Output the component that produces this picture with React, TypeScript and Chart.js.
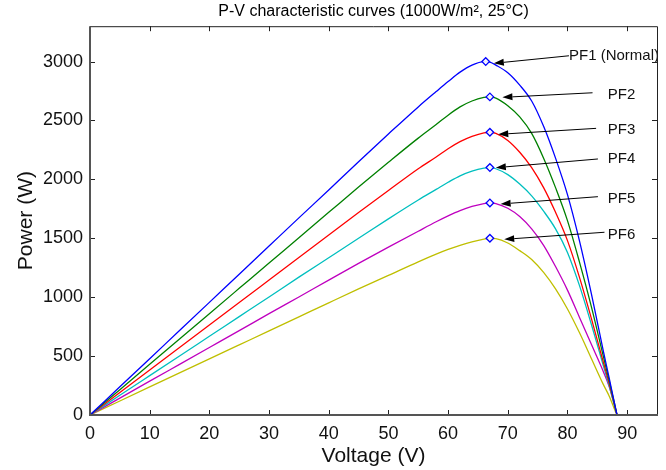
import React, { useEffect, useRef } from "react";
import { Chart, registerables } from "chart.js";

Chart.register(...registerables);

const FONT = "'Liberation Sans', Arial, Helvetica, sans-serif";

const voltage = [0, 5, 10, 15, 20, 25, 30, 35, 40, 45, 50, 55, 58, 60, 62, 64, 66, 67, 68, 70, 72, 74, 76, 78, 80, 82, 84, 86, 87, 88, 88.3];

const pf1 = [0, 239, 478, 717, 956, 1195, 1434, 1673, 1910, 2150, 2385, 2615, 2745, 2830, 2910, 2970, 3000, 2995, 2970, 2905, 2800, 2665, 2450, 2180, 1870, 1480, 1030, 545, 310, 70, 0];
const pf2 = [0, 215, 430, 645, 860, 1075, 1290, 1505, 1720, 1935, 2145, 2350, 2465, 2545, 2615, 2665, 2695, 2700, 2690, 2625, 2530, 2390, 2180, 1930, 1650, 1300, 920, 500, 290, 70, 0];
const pf3 = [0, 191, 382, 573, 764, 955, 1146, 1337, 1528, 1718, 1905, 2090, 2190, 2260, 2320, 2365, 2395, 2400, 2390, 2330, 2230, 2100, 1930, 1720, 1480, 1170, 820, 450, 265, 60, 0];
const pf4 = [0, 167, 334, 501, 668, 835, 1002, 1170, 1335, 1500, 1665, 1825, 1915, 1975, 2030, 2070, 2095, 2100, 2090, 2040, 1960, 1860, 1730, 1580, 1380, 1100, 770, 420, 245, 55, 0];
const pf5 = [0, 143, 287, 430, 573, 716, 860, 1002, 1145, 1287, 1425, 1560, 1640, 1690, 1735, 1770, 1795, 1800, 1795, 1755, 1685, 1580, 1440, 1260, 1060, 830, 600, 370, 240, 60, 0];
const pf6 = [0, 119, 238, 357, 476, 595, 714, 833, 952, 1070, 1185, 1300, 1365, 1405, 1440, 1470, 1493, 1500, 1497, 1460, 1395, 1320, 1210, 1070, 900, 700, 480, 260, 160, 35, 0];

const seriesNames = ["PF1", "PF2", "PF3", "PF4", "PF5", "PF6"];
const seriesValues = [pf1, pf2, pf3, pf4, pf5, pf6];
const seriesColors = ["#0000ff", "#008000", "#ff0000", "#00bfbf", "#bf00bf", "#bfbf00"];

const peakV = [66.3, 67, 67, 67, 67, 67];
const peakP = [3000, 2700, 2400, 2100, 1800, 1500];

const labelText = ["PF1 (Normal)", "PF2", "PF3", "PF4", "PF5", "PF6"];
const labelV = [80.25, 86.75, 86.75, 86.75, 86.75, 86.75];
const labelP = [3049, 2716, 2419, 2170, 1831, 1528];
const arrowTailV = [80.25, 84.2, 84.8, 85.1, 85.1, 86.2];
const arrowTailP = [3049, 2735, 2433, 2173, 1853, 1551];
const arrowTipV = [67.66, 69.1, 68.4, 68.0, 68.8, 69.4];
const arrowTipP = [2985, 2696, 2382, 2099, 1791, 1491];

const xTicks = [0, 10, 20, 30, 40, 50, 60, 70, 80, 90];
const yTicks = [0, 500, 1000, 1500, 2000, 2500, 3000];

const framePlugin = {
  id: "frame",
  afterDatasetsDraw(chart: any) {
    const { ctx, scales } = chart;
    const xs = scales.x;
    const ys = scales.y;
    ctx.save();
    for (let i = 0; i < labelText.length; i++) {
      const tx = xs.getPixelForValue(arrowTailV[i]);
      const ty = ys.getPixelForValue(arrowTailP[i]);
      const hx = xs.getPixelForValue(arrowTipV[i]);
      const hy = ys.getPixelForValue(arrowTipP[i]);
      const ang = Math.atan2(hy - ty, hx - tx);
      const L = 10;
      const W = 3.5;
      const bx = hx - Math.cos(ang) * L;
      const by = hy - Math.sin(ang) * L;
      ctx.strokeStyle = "#000";
      ctx.lineWidth = 1;
      ctx.beginPath();
      ctx.moveTo(tx, ty);
      ctx.lineTo(bx, by);
      ctx.stroke();
      ctx.fillStyle = "#000";
      ctx.beginPath();
      ctx.moveTo(hx, hy);
      ctx.lineTo(bx + Math.sin(ang) * W, by - Math.cos(ang) * W);
      ctx.lineTo(bx - Math.sin(ang) * W, by + Math.cos(ang) * W);
      ctx.closePath();
      ctx.fill();
      ctx.font = "15px " + FONT;
      ctx.textAlign = "left";
      ctx.textBaseline = "middle";
      ctx.fillStyle = "#111";
      ctx.fillText(labelText[i], xs.getPixelForValue(labelV[i]), ys.getPixelForValue(labelP[i]));
    }
    ctx.restore();
  },
  afterDraw(chart: any) {
    const { ctx, chartArea: a, scales } = chart;
    const xs = scales.x;
    const ys = scales.y;
    ctx.save();
    const tl = 5;
    ctx.strokeStyle = "#222";
    ctx.lineWidth = 1;
    ctx.beginPath();
    ctx.moveTo(a.left, a.top + 0.5);
    ctx.lineTo(a.right + 0.5, a.top + 0.5);
    ctx.lineTo(a.right + 0.5, a.bottom);
    ctx.stroke();
    for (const v of xTicks) {
      const px = Math.round(xs.getPixelForValue(v)) + 0.5;
      ctx.beginPath();
      ctx.moveTo(px, a.top);
      ctx.lineTo(px, a.top + tl);
      ctx.moveTo(px, a.bottom);
      ctx.lineTo(px, a.bottom - tl);
      ctx.stroke();
    }
    for (const v of yTicks) {
      const py = Math.round(ys.getPixelForValue(v)) + 0.5;
      ctx.beginPath();
      ctx.moveTo(a.left, py);
      ctx.lineTo(a.left + tl, py);
      ctx.moveTo(a.right, py);
      ctx.lineTo(a.right - tl, py);
      ctx.stroke();
    }
    ctx.strokeStyle = "#555";
    ctx.lineWidth = 2;
    ctx.beginPath();
    ctx.moveTo(a.left, a.top);
    ctx.lineTo(a.left, a.bottom);
    ctx.lineTo(a.right + 1, a.bottom);
    ctx.stroke();
    ctx.restore();
  },
};

export default function App() {
  const ref = useRef<HTMLCanvasElement | null>(null);
  useEffect(() => {
    document.body.style.margin = "0";
    if (!ref.current) return;
    const datasets: any[] = [];
    datasets.push({
      type: "scatter",
      label: "MPP",
      data: peakV.map((v, i) => ({ x: v, y: peakP[i] })),
      pointStyle: "rectRot",
      pointRadius: 3.8,
      borderColor: "#0000ff",
      backgroundColor: "rgba(255,255,255,0.9)",
      borderWidth: 1.3,
      order: 0,
    });
    seriesValues.forEach((vals, s) => {
      datasets.push({
        type: "line",
        label: seriesNames[s],
        data: voltage.map((v, i) => ({ x: v, y: vals[i] })),
        borderColor: seriesColors[s],
        borderWidth: 1.3,
        pointRadius: 0,
        fill: false,
        cubicInterpolationMode: "monotone",
        order: 1,
      });
    });
    const chart = new Chart(ref.current, {
      type: "line",
      data: { datasets },
      options: {
        animation: false,
        responsive: false,
        maintainAspectRatio: false,
        layout: { padding: { top: 0, right: 9, bottom: 0, left: 0 } },
        plugins: {
          legend: { display: false },
          tooltip: { enabled: false },
          title: {
            display: true,
            text: "P-V characteristic curves (1000W/m², 25°C)",
            fullSize: false,
            color: "#000",
            font: { family: FONT, size: 16, weight: "normal" },
            padding: { top: 2, bottom: 5 },
          },
        },
        scales: {
          x: {
            type: "linear",
            min: 0,
            max: 95,
            afterBuildTicks: (s: any) => {
              s.ticks = xTicks.map((v) => ({ value: v }));
            },
            afterFit: (s: any) => {
              s.height = 55;
            },
            grid: { display: false, drawTicks: false },
            border: { display: false },
            ticks: {
              color: "#111",
              font: { family: FONT, size: 18 },
              padding: 8,
              maxRotation: 0,
              callback: (v: any) => String(v),
            },
            title: {
              display: true,
              text: "Voltage (V)",
              color: "#111",
              font: { family: FONT, size: 21 },
              padding: { top: 0, bottom: 1 },
            },
          },
          y: {
            type: "linear",
            min: 0,
            max: 3300,
            afterBuildTicks: (s: any) => {
              s.ticks = yTicks.map((v) => ({ value: v }));
            },
            afterFit: (s: any) => {
              s.width = 90;
            },
            grid: { display: false, drawTicks: false },
            border: { display: false },
            ticks: {
              color: "#111",
              font: { family: FONT, size: 18 },
              padding: 7,
              callback: (v: any) => String(v),
            },
            title: {
              display: true,
              text: "Power (W)",
              color: "#111",
              font: { family: FONT, size: 21 },
              padding: { top: 14, bottom: 0 },
            },
          },
        },
      },
      plugins: [framePlugin],
    });
    return () => chart.destroy();
  }, []);
  return (
    <div style={{ position: "absolute", left: 0, top: 0, width: 666, height: 470 }}>
      <canvas ref={ref} width={666} height={470} style={{ width: 666, height: 470 }} />
    </div>
  );
}
